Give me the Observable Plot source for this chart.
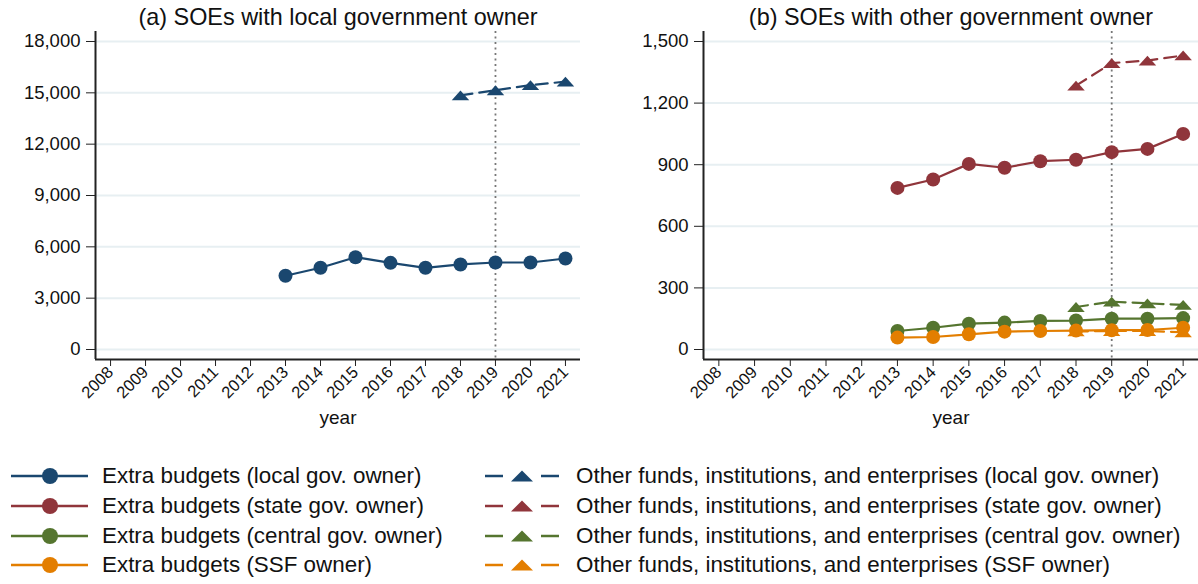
<!DOCTYPE html>
<html>
<head>
<meta charset="utf-8">
<script src="https://cdn.jsdelivr.net/npm/d3@7"></script>
<script src="https://cdn.jsdelivr.net/npm/@observablehq/plot@0.6"></script>
<style>
  html, body { margin: 0; padding: 0; background: #fff; }
  body { width: 1198px; height: 584px; overflow: hidden; font-family: "Liberation Sans", Arial, sans-serif; color: #111; }
  #charts { display: flex; width: 1198px; height: 440px; }
  #legend { position: relative; width: 1198px; height: 144px; }
  .item { position: absolute; display: flex; align-items: center; height: 30px; font-size: 22.4px; white-space: nowrap; }
  .item svg { display: block; }
</style>
</head>
<body>
<div id="charts"></div>
<div id="legend"></div>
<script>
// ---- data ----
const tickYears = [2008, 2009, 2010, 2011, 2012, 2013, 2014, 2015, 2016, 2017, 2018, 2019, 2020, 2021];
const yearsExtra = [2013, 2014, 2015, 2016, 2017, 2018, 2019, 2020, 2021];
const yearsOther = [2018, 2019, 2020, 2021];

const extraLocal   = [4310, 4775, 5395, 5065, 4775, 4970, 5085, 5085, 5320];
const otherLocal   = [14850, 15150, 15450, 15650];

const extraState   = [787, 828, 904, 885, 917, 924, 961, 977, 1050];
const otherState   = [1285, 1395, 1407, 1432];
const extraCentral = [90, 106, 126, 131, 139, 141, 150, 150, 153];
const otherCentral = [207, 233, 225, 217];
const extraSSF     = [58, 61, 74, 87, 90, 92, 94, 95, 106];
const otherSSF     = [88, 90, 90, 84];

const leftYTicks  = [0, 3000, 6000, 9000, 12000, 15000, 18000];
const rightYTicks = [0, 300, 600, 900, 1200, 1500];

const owners = ["local gov. owner", "state gov. owner", "central gov. owner", "SSF owner"];
const ownerColors = ["#1a476f", "#90353b", "#55752f", "#e37e00"];
const extraPrefix = "Extra budgets";
const otherPrefix = "Other funds, institutions, and enterprises";
const titles = ["(a) SOEs with local government owner", "(b) SOEs with other government owner"];
const xLabel = "year";
const markYear = 2019;

// ---- build tables ----
function rows(years, values, owner) {
  return years.map((year, i) => ({year, value: values[i], owner}));
}
const leftExtra = rows(yearsExtra, extraLocal, owners[0]);
const leftOther = rows(yearsOther, otherLocal, owners[0]);
const rightExtra = [
  ...rows(yearsExtra, extraState, owners[1]),
  ...rows(yearsExtra, extraCentral, owners[2]),
  ...rows(yearsExtra, extraSSF, owners[3])
];
const rightOther = [
  ...rows(yearsOther, otherState, owners[1]),
  ...rows(yearsOther, otherCentral, owners[2]),
  ...rows(yearsOther, otherSSF, owners[3])
];

// flattened triangle, as in the reference
const flatTri = {
  draw(ctx, size) {
    const r = Math.sqrt(size / Math.PI);
    const w = r * 1.25, h = r * 0.7;
    ctx.moveTo(0, -h);
    ctx.lineTo(w, h);
    ctx.lineTo(-w, h);
    ctx.closePath();
  }
};

const fontFamily = '"Liberation Sans", Arial, sans-serif';
const xDomain = [2007.57, 2021.43];

function panel({width, marginLeft, marginRight, yDomain, yTicks, extra, other, title}) {
  return Plot.plot({
    width, height: 440,
    marginLeft, marginRight, marginTop: 31, marginBottom: 81,
    style: {fontFamily, color: "#111", background: "#fff", overflow: "visible"},
    x: {domain: xDomain},
    y: {domain: yDomain},
    color: {domain: owners, range: ownerColors},
    marks: [
      Plot.gridY(yTicks, {stroke: "#e7eff2", strokeOpacity: 1, strokeWidth: 2}),
      Plot.ruleX([markYear], {stroke: "#777", strokeWidth: 1.8, strokeDasharray: "2,3.5"}),
      Plot.line(extra, {x: "year", y: "value", z: "owner", stroke: "owner", strokeWidth: 2.2}),
      Plot.line(other, {x: "year", y: "value", z: "owner", stroke: "owner", strokeWidth: 2.2, strokeDasharray: "12,7"}),
      Plot.dot(extra, {x: "year", y: "value", fill: "owner", r: 7, symbol: "circle"}),
      Plot.dot(other, {x: "year", y: "value", fill: "owner", r: 7, symbol: flatTri}),
      Plot.ruleX([xDomain[0]], {stroke: "#222", strokeWidth: 2}),
      Plot.ruleY([yDomain[0]], {stroke: "#222", strokeWidth: 2}),
      Plot.axisY({ticks: yTicks, tickFormat: d3.format(","), tickSize: 9, tickPadding: 6, fontSize: 18.5, label: null, stroke: "#222"}),
      Plot.axisX({ticks: tickYears, tickFormat: d => String(d), tickRotate: -45, tickSize: 7, tickPadding: 3, fontSize: 16.5, label: null, stroke: "#222"}),
      Plot.text([xLabel], {frameAnchor: "bottom", lineAnchor: "middle", dy: 58, fontSize: 19, fill: "#111"}),
      Plot.text([title], {frameAnchor: "top", lineAnchor: "middle", dy: -14, fontSize: 23.4, fill: "#111"})
    ]
  });
}

const charts = document.getElementById("charts");
charts.append(panel({
  width: 600, marginLeft: 95, marginRight: 20,
  yDomain: [-584, 18584], yTicks: leftYTicks,
  extra: leftExtra, other: leftOther, title: titles[0]
}));
charts.append(panel({
  width: 598, marginLeft: 103, marginRight: 0,
  yDomain: [-48.7, 1548.7], yTicks: rightYTicks,
  extra: rightExtra, other: rightOther, title: titles[1]
}));

// ---- legend ----
const legend = document.getElementById("legend");
const rowCenters = [36, 66, 96, 125];
owners.forEach((owner, i) => {
  const color = ownerColors[i];
  const a = document.createElement("div");
  a.className = "item";
  a.style.left = "11px";
  a.style.top = (rowCenters[i] - 15) + "px";
  a.innerHTML = `<svg width="91" height="30"><line x1="0" x2="77" y1="15" y2="15" stroke="${color}" stroke-width="2.5"/><circle cx="39" cy="15" r="8" fill="${color}"/></svg><span>${extraPrefix} (${owner})</span>`;
  legend.append(a);
  const b = document.createElement("div");
  b.className = "item";
  b.style.left = "485px";
  b.style.top = (rowCenters[i] - 15) + "px";
  b.innerHTML = `<svg width="91" height="30"><line x1="0" x2="18" y1="15" y2="15" stroke="${color}" stroke-width="2.5"/><line x1="56" x2="74" y1="15" y2="15" stroke="${color}" stroke-width="2.5"/><path d="M37,9.5L48,20.5L26,20.5Z" fill="${color}"/></svg><span>${otherPrefix} (${owner})</span>`;
  legend.append(b);
});
</script>
</body>
</html>
